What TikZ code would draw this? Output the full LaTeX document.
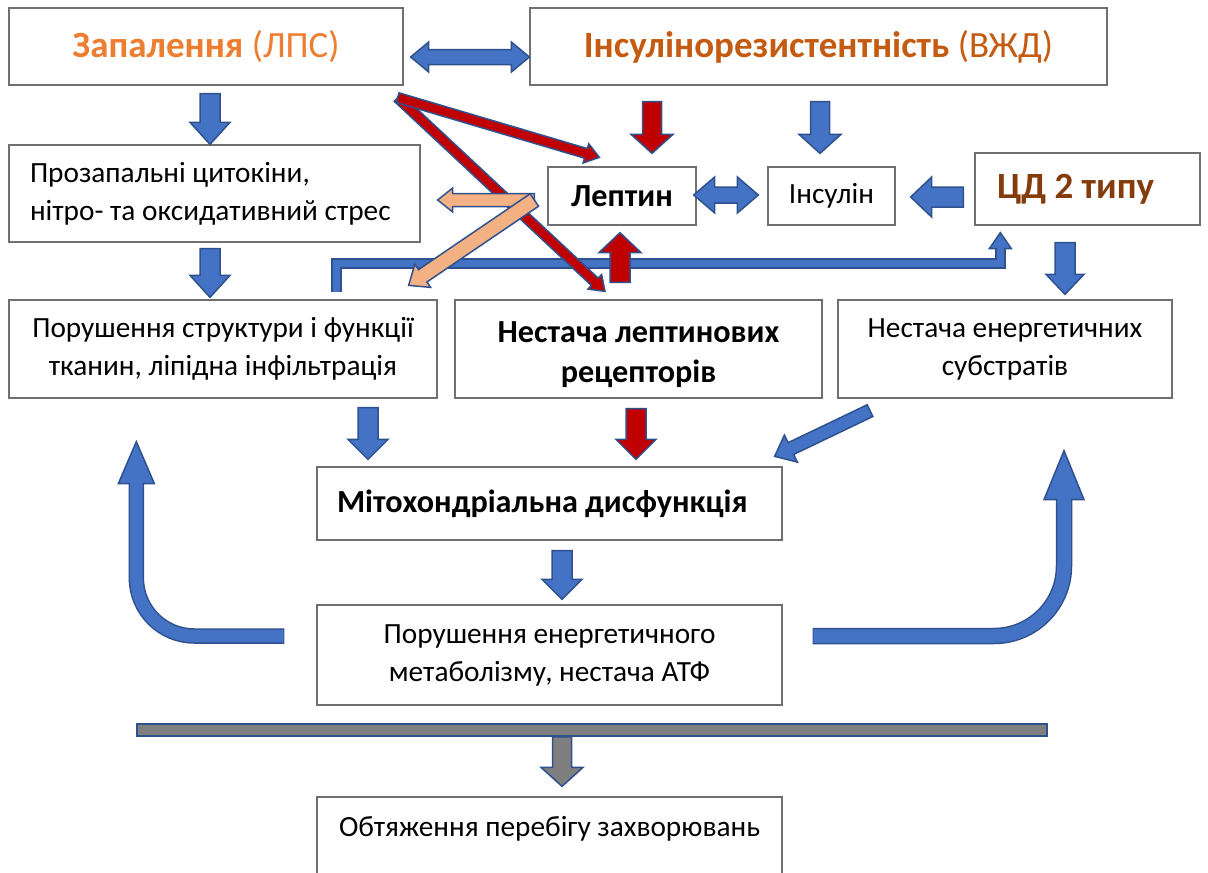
\documentclass[tikz,border=0pt]{standalone}
\usepackage{fontspec}
\setmainfont{Carlito}
\usetikzlibrary{calc}
\definecolor{arrblue}{HTML}{4472C4}
\definecolor{arrline}{HTML}{2F528F}
\definecolor{arrred}{HTML}{C00000}
\definecolor{arrpeach}{HTML}{F4B183}
\definecolor{arrgray}{HTML}{7F7F7F}
\definecolor{boxline}{HTML}{707070}
\definecolor{txtorange}{HTML}{ED7D31}
\definecolor{txtorangeb}{HTML}{C55A11}
\definecolor{txtbrown}{HTML}{843C0C}
% straight block arrow: [style]{from}{to}{shaft half}{head half}{head length}
\newcommand\blkarrow[6][]{%
  \coordinate (bab) at ($(#3)!#6!(#2)$);
  \path[#1] ($(#2)!#4!90:(#3)$) -- ($(bab)!#4!90:(#3)$) -- ($(bab)!#5!90:(#3)$) -- (#3)
    -- ($(bab)!#5!-90:(#3)$) -- ($(bab)!#4!-90:(#3)$) -- ($(#2)!#4!-90:(#3)$) -- cycle;}
% double block arrow
\newcommand\dblkarrow[6][]{%
  \coordinate (baa) at ($(#2)!#6!(#3)$);
  \coordinate (bab) at ($(#3)!#6!(#2)$);
  \path[#1] (#2) -- ($(baa)!#5!90:(#3)$) -- ($(baa)!#4!90:(#3)$) -- ($(bab)!#4!90:(#3)$)
    -- ($(bab)!#5!90:(#3)$) -- (#3) -- ($(bab)!#5!-90:(#3)$) -- ($(bab)!#4!-90:(#3)$)
    -- ($(baa)!#4!-90:(#3)$) -- ($(baa)!#5!-90:(#3)$) -- cycle;}
% arrow head only: [style]{base}{tip}{half}
\newcommand\bahead[4][]{%
  \path[#1] ($(#2)!#4!90:(#3)$) -- (#3) -- ($(#2)!#4!-90:(#3)$) -- cycle;}
\begin{document}
\begin{tikzpicture}[x=1pt,y=-1pt,
  box/.style={draw=boxline, line width=1.3pt, fill=white, inner sep=0pt,
    font=\fontsize{29.3}{38}\selectfont},
  bluearr/.style={fill=arrblue, draw=arrline, line width=1.5pt, line join=miter},
  redarr/.style={fill=arrred, draw=arrline, line width=1.5pt, line join=miter},
  peacharr/.style={fill=arrpeach, draw=arrline, line width=1.5pt, line join=miter},
  grayarr/.style={fill=arrgray, draw=arrline, line width=1.5pt, line join=miter},
  outl/.style={draw=arrline},
  titlefont/.style={font=\fontsize{37}{43}\selectfont},
  boldfont/.style={font=\fontsize{32.2}{40}\selectfont\bfseries}]
\clip (0,0) rectangle (1208,873);
\fill[white] (0,0) rectangle (1208,873);

% ---------- boxes ----------
\node[box, titlefont, minimum width=394pt, minimum height=77pt] (A) at (206,46.5)
  {\color{txtorange}\textbf{Запалення} (ЛПС)};
\node[box, titlefont, minimum width=577pt, minimum height=77pt] (B) at (818.5,46.5)
  {\color{txtorangeb}\textbf{Інсулінорезистентність} (ВЖД)};
\node[box, minimum width=411pt, minimum height=97pt, text width=369pt, inner xsep=21pt, align=flush left] (C) at (214.5,193.5)
  {Прозапальні цитокіни,\\нітро- та оксидативний стрес};
\node[box, boldfont, minimum width=148pt, minimum height=58pt] (L) at (622,196) {Лептин};
\node[box, minimum width=127pt, minimum height=58pt] (I) at (831.5,196) {Інсулін};
\node[box, titlefont, minimum height=72pt, text width=181pt, inner xsep=22pt, align=flush left] (T) at (1087.5,189)
  {\color{txtbrown}\bfseries ЦД 2 типу};
\node[box, minimum width=428pt, minimum height=98pt, align=center] (D) at (223,349)
  {Порушення структури і функції\\тканин, ліпідна інфільтрація};
\node[box, boldfont, minimum width=367pt, minimum height=98pt, align=center] (E) at (638.5,349)
  {\rule{0pt}{32pt}Нестача лептинових\\рецепторів};
\node[box, minimum width=334pt, minimum height=98pt, align=center] (F) at (1005,349)
  {Нестача енергетичних\\субстратів};
\node[box, boldfont, minimum height=73pt, text width=425pt, inner xsep=20pt, align=flush left] (G) at (549.5,503.5)
  {Мітохондріальна дисфункція};
\node[box, minimum width=465pt, minimum height=100pt, align=center] (H) at (549.5,655)
  {Порушення енергетичного\\метаболізму, нестача АТФ};
\node[box, minimum width=465pt, text height=39pt, text depth=41pt] (K) at (549.5,837)
  {Обтяження перебігу захворювань};
\node[fill=arrgray, draw=arrline, line width=1.5pt, minimum width=910pt, minimum height=12pt, inner sep=0pt] (bar) at (592,730) {};

% ---------- arrow end points ----------
\coordinate (abL) at ($(A.east)+(7,10.5)$);
\coordinate (abR) at ($(B.west)+(0,10.5)$);
\coordinate (ac1) at ($(A.south)+(4,8)$);
\coordinate (ac2) at ($(C.north)+(-4.5,0)$);
\coordinate (cd1) at ($(C.south)+(-4.5,6)$);
\coordinate (cd2) at ($(D.north)+(-13,-2)$);
\coordinate (bl1) at ($(B.south)+(-166.5,16)$);
\coordinate (bl2) at ($(L.north)+(30,-13)$);
\coordinate (bi1) at ($(B.south)+(1.5,16)$);
\coordinate (bi2) at ($(I.north)+(-11.5,-13)$);
\coordinate (li1) at ($(L.east)+(-3,-1)$);
\coordinate (li2) at ($(I.west)+(-9,-1)$);
\coordinate (ti1) at ($(T.west)+(-11,8)$);
\coordinate (ti2) at ($(I.east)+(15,1)$);
\coordinate (tf1) at ($(T.south)+(-22.5,17)$);
\coordinate (tf2) at ($(F.north)+(60,-5)$);
\coordinate (el1) at ($(E.north)+(-18.5,-17)$);
\coordinate (el2) at ($(L.south)+(-2,7)$);
\coordinate (rz) at ($(A.south east)+(-6,12)$);
\coordinate (rz1) at ($(L.north west)+(52,-9)$);
\coordinate (rz2) at ($(E.north)+(-33.5,-8)$);
\coordinate (pz) at ($(L.west)+(-13,4)$);
\coordinate (pz1) at ($(C.east)+(17,6.5)$);
\coordinate (pz2) at ($(D.north east)+(-29,-14)$);
\coordinate (fg1) at ($(F.south)+(-135,12)$);
\coordinate (fg2) at ($(G.north east)+(-8,-10)$);
\coordinate (dg1) at ($(D.south)+(145,9)$);
\coordinate (dg2) at ($(G.north)+(-181.5,-7)$);
\coordinate (eg1) at ($(E.south)+(-2.5,10)$);
\coordinate (eg2) at ($(G.north)+(86.5,-7)$);
\coordinate (gh1) at ($(G.south)+(12.5,10)$);
\coordinate (gh2) at ($(H.north)+(12.5,-5)$);
\coordinate (gk1) at ($(bar.south)+(-30,0)$);
\coordinate (gk2) at ($(K.north)+(12.5,-10)$);
\coordinate (czS) at ($(D.north east)+(-101,-7)$);
\coordinate (czT) at ($(T.south west)+(26,7)$);
\coordinate (czB) at ($(czT)+(0,16)$);
\coordinate (czC) at ($(czT)+(0,31)$);
\coordinate (lcS) at ($(H.west)+(-32,-19)$);
\coordinate (lcT) at ($(D.south west)+(128,43)$);
\coordinate (lcB) at ($(lcT)+(0,42)$);
\coordinate (rcS) at ($(H.east)+(30,-19)$);
\coordinate (rcT) at ($(F.south)+(59,52)$);
\coordinate (rcB) at ($(rcT)+(0,49)$);

% ---------- straight arrows ----------
\dblkarrow[bluearr]{abL}{abR}{7.5pt}{15pt}{18pt}
\blkarrow[bluearr]{ac1}{ac2}{10pt}{20pt}{22pt}
\blkarrow[bluearr]{cd1}{cd2}{10pt}{20pt}{22pt}
\blkarrow[redarr]{bl1}{bl2}{9.5pt}{21pt}{19pt}
\blkarrow[bluearr]{bi1}{bi2}{9.5pt}{21pt}{19pt}
\dblkarrow[bluearr]{li1}{li2}{8pt}{18pt}{21pt}
\blkarrow[bluearr]{ti1}{ti2}{10pt}{20pt}{21pt}
\blkarrow[bluearr]{tf1}{tf2}{10pt}{19pt}{20pt}

% bent connector D -> T
\draw[outl, line width=10.5pt, line join=miter] (czS) |- (czC) -- (czB);
\bahead[bluearr]{czB}{czT}{11pt}
\draw[draw=arrblue, line width=7.5pt, line join=miter] ($(czS)+(0,-0.75)$) |- (czC) -- ($(czB)+(0,-1.5)$);

\blkarrow[redarr]{el1}{el2}{10pt}{21pt}{20pt}
\blkarrow[redarr]{rz}{rz2}{5pt}{10pt}{14pt}
\blkarrow[redarr]{rz}{rz1}{5pt}{10pt}{14pt}
\blkarrow[peacharr]{pz}{pz1}{6.5pt}{12pt}{15pt}
\blkarrow[peacharr]{pz}{pz2}{7.5pt}{14pt}{17pt}

\blkarrow[bluearr]{dg1}{dg2}{10pt}{20pt}{20pt}
\blkarrow[redarr]{eg1}{eg2}{10pt}{20pt}{20pt}
\blkarrow[bluearr]{fg1}{fg2}{6.5pt}{15pt}{18pt}
\blkarrow[bluearr]{gh1}{gh2}{10pt}{20pt}{20pt}
\blkarrow[grayarr]{gk1}{gk2}{9.5pt}{21pt}{19pt}

% ---------- curved arrows ----------
\draw[outl, line width=15.5pt, rounded corners=58pt] (lcS) -| (lcB);
\bahead[bluearr]{lcB}{lcT}{18pt}
\draw[draw=arrblue, line width=12.5pt, rounded corners=58pt] ($(lcS)+(-0.75,0)$) -| ($(lcB)+(0,-1.5)$);

\draw[outl, line width=16.5pt, rounded corners=70pt] (rcS) -| (rcB);
\bahead[bluearr]{rcB}{rcT}{20pt}
\draw[draw=arrblue, line width=13.5pt, rounded corners=70pt] ($(rcS)+(0.75,0)$) -| ($(rcB)+(0,-1.5)$);
\end{tikzpicture}
\end{document}
